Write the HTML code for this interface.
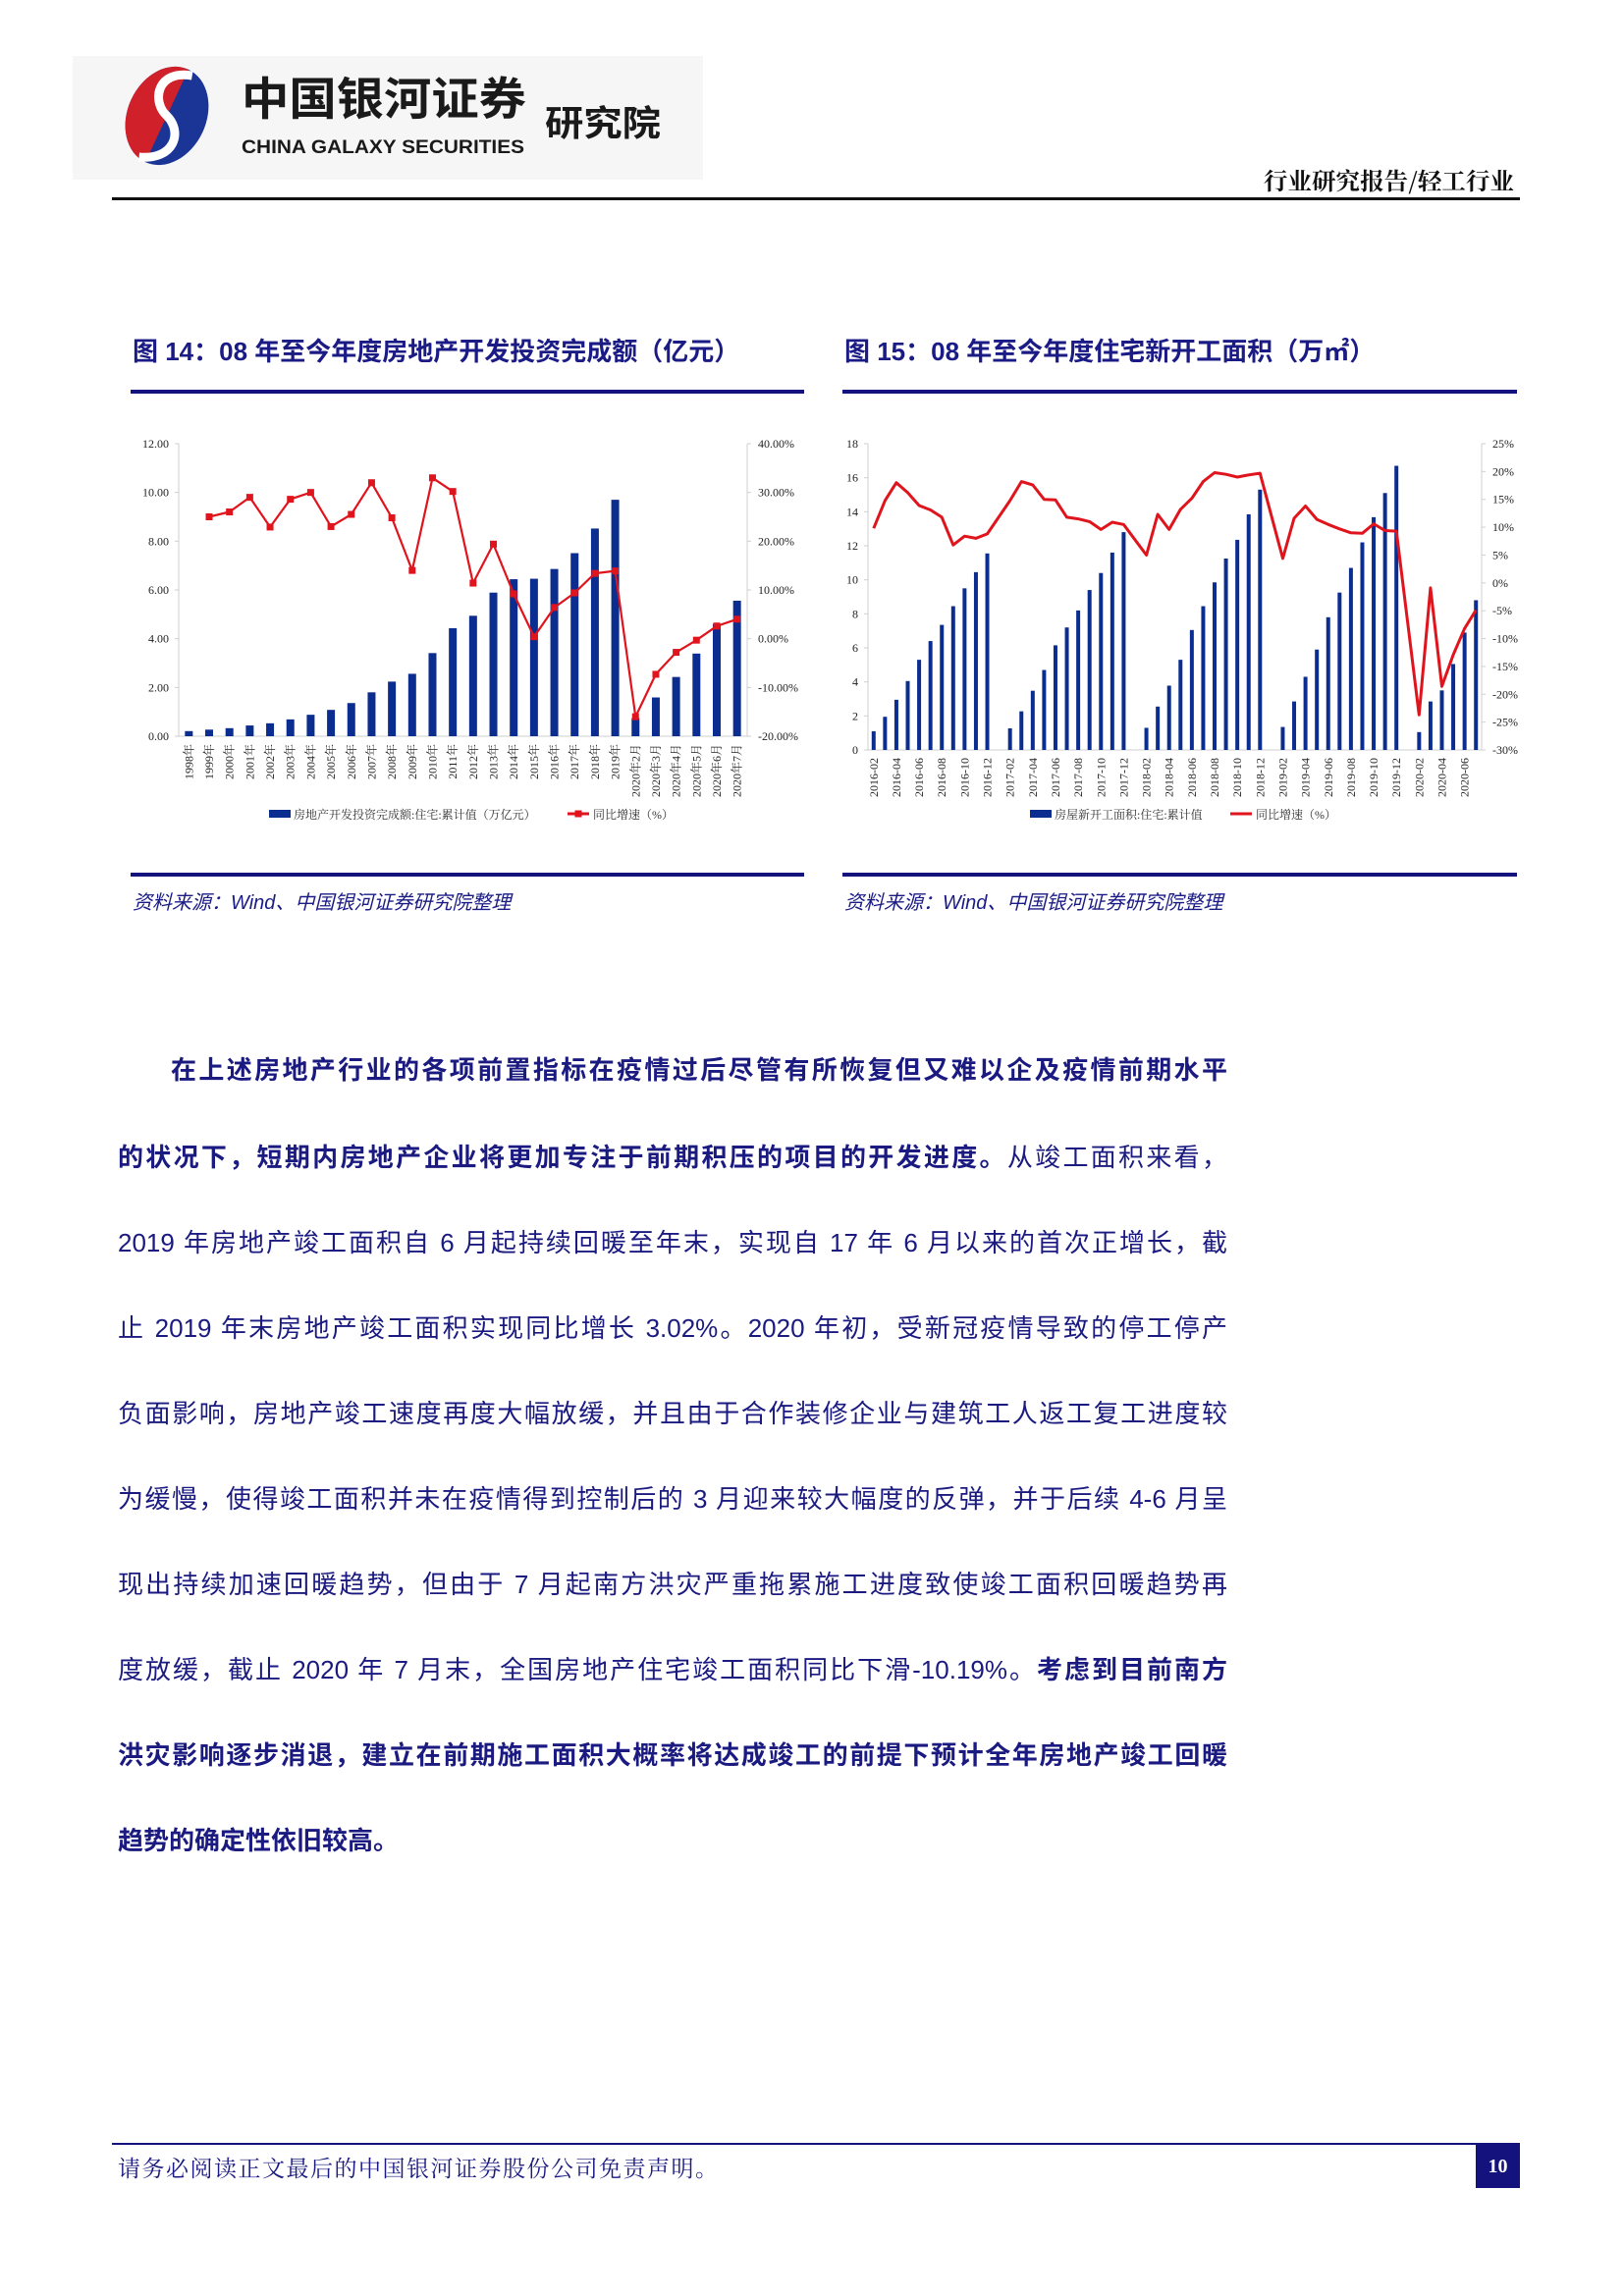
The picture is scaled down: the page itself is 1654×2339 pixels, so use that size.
<!DOCTYPE html>
<html><head><meta charset="utf-8">
<style>
html,body{margin:0;padding:0;background:#fff;}
body{width:1654px;height:2339px;position:relative;overflow:hidden;font-family:"Liberation Sans","Noto Sans CJK SC",sans-serif;}
.abs{position:absolute;}
.title{font-size:26px;font-weight:bold;color:#1b1b86;white-space:nowrap;}
.rule{background:#14137e;height:4px;}
.src{font-size:20px;font-style:italic;color:#1b1b86;white-space:nowrap;}
.pl{position:absolute;left:120px;width:1130px;font-size:26px;color:#1a1a80;text-align:justify;text-align-last:justify;white-space:nowrap;line-height:30px;}
.pl b{font-weight:bold;}
</style></head>
<body>
<svg class="abs" style="left:0;top:0" width="1654" height="230">
  <rect x="74" y="57" width="642" height="126" fill="#f6f6f6"/>
  <g transform="rotate(25 170 118)">
    <ellipse cx="170" cy="118" rx="40" ry="52" fill="#1a3596"/>
    <path d="M170 66 A40 52 0 0 0 170 170 Z" fill="#d0202a"/>
    <path d="M176 70 C140 80,150 112,170 118 C192 126,196 156,162 168" stroke="#fff" stroke-width="9" fill="none"/>
  </g>
  <text x="246" y="117" font-size="46" font-weight="bold" fill="#1a1a1a" textLength="290" lengthAdjust="spacingAndGlyphs" font-family="Noto Sans CJK SC, sans-serif">中国银河证券</text>
  <text x="246" y="156" font-size="19" font-weight="bold" fill="#1a1a1a" textLength="288" lengthAdjust="spacingAndGlyphs" font-family="Liberation Sans, sans-serif">CHINA GALAXY SECURITIES</text>
  <text x="555" y="138" font-size="36" font-weight="bold" fill="#1a1a1a" textLength="118" lengthAdjust="spacingAndGlyphs" font-family="Noto Sans CJK SC, sans-serif">研究院</text>
  <text x="1542" y="193" font-size="24" font-weight="bold" fill="#111" text-anchor="end" textLength="255" lengthAdjust="spacingAndGlyphs" font-family="Noto Serif CJK SC, serif">行业研究报告/轻工行业</text>
  <rect x="114" y="201" width="1434" height="3" fill="#111"/>
</svg>

<div class="abs title" style="left:135px;top:338px">图 14：08 年至今年度房地产开发投资完成额（亿元）</div>
<div class="abs title" style="left:860px;top:338px">图 15：08 年至今年度住宅新开工面积（万㎡）</div>
<div class="abs rule" style="left:133px;top:397px;width:686px"></div>
<div class="abs rule" style="left:858px;top:397px;width:687px"></div>
<div class="abs rule" style="left:133px;top:889px;width:686px"></div>
<div class="abs rule" style="left:858px;top:889px;width:687px"></div>
<div class="abs src" style="left:135px;top:903px">资料来源：Wind、中国银河证券研究院整理</div>
<div class="abs src" style="left:860px;top:903px">资料来源：Wind、中国银河证券研究院整理</div>

<svg id="c1" class="abs" style="left:0;top:0" width="1654" height="900"></svg>
<svg id="c2" class="abs" style="left:0;top:0" width="1654" height="900"></svg>

<div>
<div class="pl" style="top:1075px;padding-left:54px;width:1076px"><b>在上述房地产行业的各项前置指标在疫情过后尽管有所恢复但又难以企及疫情前期水平</b></div>
<div class="pl" style="top:1164px"><b>的状况下，短期内房地产企业将更加专注于前期积压的项目的开发进度。</b>从竣工面积来看，</div>
<div class="pl" style="top:1251px">2019 年房地产竣工面积自 6 月起持续回暖至年末，实现自 17 年 6 月以来的首次正增长，截</div>
<div class="pl" style="top:1338px">止 2019 年末房地产竣工面积实现同比增长 3.02%。2020 年初，受新冠疫情导致的停工停产</div>
<div class="pl" style="top:1425px">负面影响，房地产竣工速度再度大幅放缓，并且由于合作装修企业与建筑工人返工复工进度较</div>
<div class="pl" style="top:1512px">为缓慢，使得竣工面积并未在疫情得到控制后的 3 月迎来较大幅度的反弹，并于后续 4-6 月呈</div>
<div class="pl" style="top:1599px">现出持续加速回暖趋势，但由于 7 月起南方洪灾严重拖累施工进度致使竣工面积回暖趋势再</div>
<div class="pl" style="top:1686px">度放缓，截止 2020 年 7 月末，全国房地产住宅竣工面积同比下滑-10.19%。<b>考虑到目前南方</b></div>
<div class="pl" style="top:1773px"><b>洪灾影响逐步消退，建立在前期施工面积大概率将达成竣工的前提下预计全年房地产竣工回暖</b></div>
<div class="pl" style="top:1860px;text-align:left;text-align-last:left"><b>趋势的确定性依旧较高。</b></div>
</div>

<div class="abs" style="left:114px;top:2183px;width:1434px;height:2px;background:#14137e"></div>
<div class="abs" style="left:120px;top:2191px;font-size:23px;font-family:'Liberation Serif','Noto Serif CJK SC',serif;color:#1a1a80;white-space:nowrap;letter-spacing:1.5px">请务必阅读正文最后的中国银河证券股份公司免责声明。</div>
<div class="abs" style="left:1503px;top:2185px;width:45px;height:44px;background:#14137e;color:#fff;font-family:'Liberation Serif',serif;font-weight:bold;font-size:20px;line-height:44px;text-align:center">10</div>

<script>
const NS="http://www.w3.org/2000/svg";
// ---- Chart 14 data ----
const c1Categories=["1998年","1999年","2000年","2001年","2002年","2003年","2004年","2005年","2006年","2007年","2008年","2009年","2010年","2011年","2012年","2013年","2014年","2015年","2016年","2017年","2018年","2019年","2020年2月","2020年3月","2020年4月","2020年5月","2020年6月","2020年7月"];
const c1Invest=[0.21,0.27,0.33,0.44,0.53,0.69,0.88,1.08,1.36,1.80,2.24,2.56,3.41,4.43,4.94,5.89,6.44,6.46,6.86,7.51,8.52,9.70,0.74,1.59,2.43,3.39,4.61,5.56];
const c1Growth=[null,25.0,26.0,29.0,22.9,28.6,30.0,23.0,25.5,32.0,24.8,14.0,33.0,30.2,11.4,19.4,9.2,0.4,6.4,9.4,13.4,13.9,-16.0,-7.3,-2.8,-0.3,2.6,4.0];
const c1LeftTicks=["0.00","2.00","4.00","6.00","8.00","10.00","12.00"];
const c1RightTicks=["-20.00%","-10.00%","0.00%","10.00%","20.00%","30.00%","40.00%"];
// ---- Chart 15 data ----
const c2Categories=["2016-02","2016-03","2016-04","2016-05","2016-06","2016-07","2016-08","2016-09","2016-10","2016-11","2016-12","2017-01","2017-02","2017-03","2017-04","2017-05","2017-06","2017-07","2017-08","2017-09","2017-10","2017-11","2017-12","2018-01","2018-02","2018-03","2018-04","2018-05","2018-06","2018-07","2018-08","2018-09","2018-10","2018-11","2018-12","2019-01","2019-02","2019-03","2019-04","2019-05","2019-06","2019-07","2019-08","2019-09","2019-10","2019-11","2019-12","2020-01","2020-02","2020-03","2020-04","2020-05","2020-06","2020-07"];
const c2Area=[1.1,1.95,2.95,4.05,5.3,6.4,7.35,8.45,9.5,10.45,11.55,null,1.27,2.27,3.48,4.7,6.15,7.2,8.2,9.4,10.4,11.6,12.8,null,1.3,2.55,3.78,5.3,7.05,8.45,9.85,11.25,12.35,13.85,15.3,null,1.35,2.85,4.3,5.9,7.8,9.25,10.7,12.2,13.68,15.1,16.7,null,1.05,2.85,3.5,5.05,6.9,8.8];
const c2Growth=[9.8,14.8,18.0,16.2,13.9,13.1,11.8,6.8,8.4,8.0,8.8,null,14.8,18.2,17.6,15.0,14.9,11.8,11.5,11.0,9.6,10.9,10.5,null,5.0,12.3,9.6,13.2,15.2,18.2,19.8,19.5,19.0,19.4,19.7,null,4.4,11.6,13.8,11.4,10.5,9.7,9.0,8.9,10.6,9.4,9.3,null,-23.7,-0.9,-18.6,-12.9,-8.2,-4.9];
const c2LeftTicks=["0","2","4","6","8","10","12","14","16","18"];
const c2RightTicks=["-30%","-25%","-20%","-15%","-10%","-5%","0%","5%","10%","15%","20%","25%"];

function mk(parent,tag,attrs){const e=document.createElementNS(NS,tag);for(const k in attrs)e.setAttribute(k,attrs[k]);parent.appendChild(e);return e;}

function drawChart(svg,o){
  const n=o.cats.length, slot=(o.R-o.L)/n;
  const xc=i=>o.L+slot*(i+0.5);
  const yL=v=>o.B-(v-o.lmin)/(o.lmax-o.lmin)*(o.B-o.T);
  const yR=v=>o.B-(v-o.rmin)/(o.rmax-o.rmin)*(o.B-o.T);
  const ax=mk(svg,'path',{d:`M${o.L} ${o.T}V${o.B}H${o.R}V${o.T}`,stroke:'#cfcfcf','stroke-width':1,fill:'none'});
  
  
  o.lt.forEach((t,i)=>{const v=o.lmin+i*(o.lmax-o.lmin)/(o.lt.length-1);const y=yL(v);
    mk(svg,'line',{x1:o.L-4,x2:o.L,y1:y,y2:y,stroke:'#cfcfcf'});
    const tx=mk(svg,'text',{x:o.L-10,y:y+4,'font-size':12,'text-anchor':'end','font-family':'Liberation Serif,serif',fill:'#222'});tx.textContent=t;
    
    });
  o.rt.forEach((t,i)=>{const v=o.rmin+i*(o.rmax-o.rmin)/(o.rt.length-1);const y=yR(v);
    mk(svg,'line',{x1:o.R,x2:o.R+4,y1:y,y2:y,stroke:'#cfcfcf'});
    const tx=mk(svg,'text',{x:o.R+11,y:y+4,'font-size':12,'font-family':'Liberation Serif,serif',fill:'#222'});tx.textContent=t;
    
    });
  o.bars.forEach((v,i)=>{if(v==null)return;const r=mk(svg,'rect',{x:xc(i)-o.bw/2,y:yL(v),width:o.bw,height:o.B-yL(v),fill:'#0b2d8f'});
    
    });
  o.cats.forEach((c,i)=>{if(!o.showLabel(c,i))return;const x=xc(i)+4,y=o.B+8;
    const tx=mk(svg,'text',{x:x,y:y,'font-size':12,'text-anchor':'end','font-family':'Liberation Serif,Noto Serif CJK SC,serif',fill:'#222',transform:`rotate(-90 ${x} ${y})`});tx.textContent=c;
    
    });
  let d='';o.line.forEach((v,i)=>{if(v==null)return;d+=(d?'L':'M')+xc(i).toFixed(1)+' '+yR(v).toFixed(1);});
  const p=mk(svg,'path',{d:d,stroke:'#e0141c','stroke-width':o.lw,fill:'none','stroke-linejoin':'round'});
  
  
  if(o.markers)o.line.forEach((v,i)=>{if(v==null)return;const m=mk(svg,'rect',{x:xc(i)-3.5,y:yR(v)-3.5,width:7,height:7,fill:'#e0141c'});
    
    });
  // legend
  const lg=mk(svg,'g',{});
  
  
  mk(lg,'rect',{x:o.leg[0],y:o.legY-4,width:22,height:8,fill:'#0b2d8f'});
  const t1=mk(lg,'text',{x:o.leg[0]+25,y:o.legY+5,'font-size':12,'font-family':'Liberation Serif,Noto Serif CJK SC,serif',fill:'#333'});t1.textContent=o.legText[0];
  mk(lg,'line',{x1:o.leg[1],x2:o.leg[1]+22,y1:o.legY,y2:o.legY,stroke:'#e0141c','stroke-width':3});
  if(o.markers)mk(lg,'rect',{x:o.leg[1]+7.5,y:o.legY-3.5,width:7,height:7,fill:'#e0141c'});
  const t2=mk(lg,'text',{x:o.leg[1]+26,y:o.legY+5,'font-size':12,'font-family':'Liberation Serif,Noto Serif CJK SC,serif',fill:'#333'});t2.textContent=o.legText[1];
}
drawChart(document.getElementById('c1'),{cats:c1Categories,bars:c1Invest,line:c1Growth,lt:c1LeftTicks,rt:c1RightTicks,
  L:182,R:761,T:452,B:750,lmin:0,lmax:12,rmin:-20,rmax:40,bw:8,lw:2.2,markers:true,showLabel:()=>true,
  leg:[274,578],legY:829,legText:["房地产开发投资完成额:住宅:累计值（万亿元）","同比增速（%）"]});
drawChart(document.getElementById('c2'),{cats:c2Categories,bars:c2Area,line:c2Growth,lt:c2LeftTicks,rt:c2RightTicks,
  L:884,R:1509,T:452,B:764,lmin:0,lmax:18,rmin:-30,rmax:25,bw:4,lw:3,markers:false,
  showLabel:(c)=>parseInt(c.slice(5))%2===0,
  leg:[1049,1253],legY:829,legText:["房屋新开工面积:住宅:累计值","同比增速（%）"]});
</script>
</body></html>
